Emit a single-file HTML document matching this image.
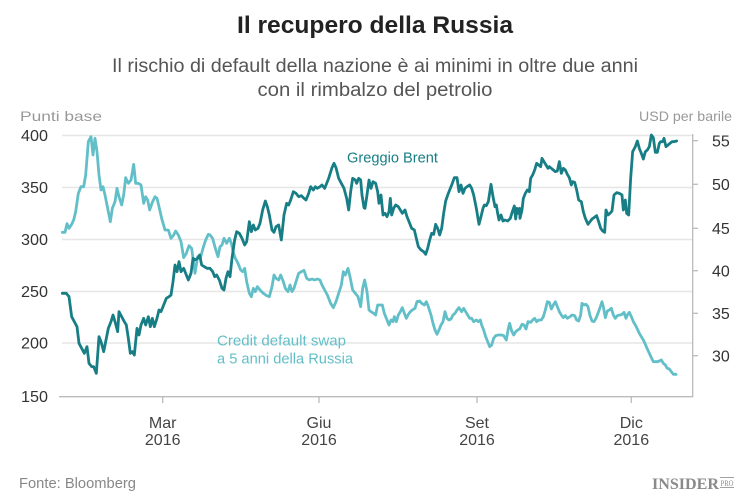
<!DOCTYPE html>
<html>
<head>
<meta charset="utf-8">
<style>
  html,body{margin:0;padding:0;background:#fff;}
  svg{display:block;}
  text{font-family:"Liberation Sans",Arial,sans-serif;}
</style>
</head>
<body>
<svg width="750" height="501" viewBox="0 0 750 501" xmlns="http://www.w3.org/2000/svg">
  <rect width="750" height="501" fill="#fff"/>

  <!-- Title -->
  <text x="375" y="33" text-anchor="middle" font-size="24" font-weight="bold" fill="#222" textLength="276" lengthAdjust="spacingAndGlyphs">Il recupero della Russia</text>
  <text x="375" y="72" text-anchor="middle" font-size="19" fill="#555" textLength="526" lengthAdjust="spacingAndGlyphs">Il rischio di default della nazione è ai minimi in oltre due anni</text>
  <text x="375" y="96" text-anchor="middle" font-size="19" fill="#555" textLength="235" lengthAdjust="spacingAndGlyphs">con il rimbalzo del petrolio</text>

  <!-- Axis titles -->
  <text x="20" y="121" font-size="14" fill="#999" textLength="82" lengthAdjust="spacingAndGlyphs">Punti base</text>
  <text x="732" y="121" text-anchor="end" font-size="14" fill="#999" textLength="93" lengthAdjust="spacingAndGlyphs">USD per barile</text>

  <!-- Gridlines -->
  <g stroke="#e6e6e6" stroke-width="1.5">
    <line x1="62" y1="135.5" x2="692" y2="135.5"/>
    <line x1="62" y1="187.5" x2="692" y2="187.5"/>
    <line x1="62" y1="239.5" x2="692" y2="239.5"/>
    <line x1="62" y1="291.5" x2="692" y2="291.5"/>
    <line x1="62" y1="343" x2="692" y2="343"/>
  </g>

  <!-- Axes -->
  <g stroke="#bbb" stroke-width="1.3" fill="none">
    <line x1="59" y1="396.7" x2="692.7" y2="396.7"/>
    <line x1="692.7" y1="134" x2="692.7" y2="397.3"/>
    <line x1="162.7" y1="397" x2="162.7" y2="403"/>
    <line x1="319" y1="397" x2="319" y2="403"/>
    <line x1="477" y1="397" x2="477" y2="403"/>
    <line x1="631.3" y1="397" x2="631.3" y2="403"/>
    <line x1="692.7" y1="140.7" x2="698" y2="140.7"/>
    <line x1="692.7" y1="184.3" x2="698" y2="184.3"/>
    <line x1="692.7" y1="228.3" x2="698" y2="228.3"/>
    <line x1="692.7" y1="270.7" x2="698" y2="270.7"/>
    <line x1="692.7" y1="313.3" x2="698" y2="313.3"/>
    <line x1="692.7" y1="355.7" x2="698" y2="355.7"/>
  </g>

  <!-- Left tick labels -->
  <g font-size="16" fill="#333">
    <text x="21" y="141" textLength="27" lengthAdjust="spacingAndGlyphs">400</text>
    <text x="21" y="193" textLength="27" lengthAdjust="spacingAndGlyphs">350</text>
    <text x="21" y="245" textLength="27" lengthAdjust="spacingAndGlyphs">300</text>
    <text x="21" y="297" textLength="27" lengthAdjust="spacingAndGlyphs">250</text>
    <text x="21" y="348.5" textLength="27" lengthAdjust="spacingAndGlyphs">200</text>
    <text x="21" y="402" textLength="27" lengthAdjust="spacingAndGlyphs">150</text>
  </g>

  <!-- Right tick labels -->
  <g font-size="16" fill="#333">
    <text x="712" y="146.5">55</text>
    <text x="712" y="190">50</text>
    <text x="712" y="234">45</text>
    <text x="712" y="276.5">40</text>
    <text x="712" y="319">35</text>
    <text x="712" y="361.5">30</text>
  </g>

  <!-- Bottom labels -->
  <g font-size="16" fill="#444" text-anchor="middle">
    <text x="162.7" y="428">Mar</text>
    <text x="162.7" y="445">2016</text>
    <text x="319" y="428">Giu</text>
    <text x="319" y="445">2016</text>
    <text x="477" y="428">Set</text>
    <text x="477" y="445">2016</text>
    <text x="631.3" y="428">Dic</text>
    <text x="631.3" y="445">2016</text>
  </g>

  <!-- Series -->
  <g transform="translate(55,125) scale(0.33333)" fill="none" stroke-linejoin="round" stroke-linecap="round">
    <polyline vector-effect="non-scaling-stroke" stroke="#62bfc8" stroke-width="2.8" points="
22,322 30,322 36,296 42,310 50,298 56,285 62,260 70,205 78,185 86,185 92,150 100,50 108,35 114,90 120,40 126,80 132,150 138,195 144,185 150,210 158,250 166,290 172,250 180,230 186,190 192,215 200,240 206,210 212,158 220,175 228,165 236,118 242,175 250,175 258,180 266,235 272,215 278,225 284,255 292,232 300,215 306,220 312,245 320,280 330,315 340,315 348,340 356,330 362,318 370,330 378,350 386,398 394,385 402,362 410,370 420,445 428,395 436,400 444,370 452,345 460,328
465,330 473,340 481,370 489,395 495,365 501,360 507,340 515,355 523,340 529,355 535,382 541,400 549,415 557,435 563,440 569,430 575,470 583,505 589,515 595,490 601,500 607,485 615,495 625,505 635,512 643,515 651,485 657,450 663,460 671,465 677,450 685,470 691,490 699,500 705,480 711,500 717,490 723,470 731,445 739,440 747,436 755,460 763,465 771,462 779,465 787,462 795,465 801,480 809,495 817,510 827,535 835,548 843,530 851,505 859,480 865,440 871,450 879,430 885,455 893,495 901,505 909,515 917,545 923,490 929,465
936,500 942,555 948,560 956,565 962,570 968,540 974,540 982,540 988,565 994,580 1002,600 1008,585 1014,590 1018,575 1024,590 1030,570 1036,560 1042,548 1048,565 1054,580 1060,568 1066,560 1072,555 1080,550 1086,530 1094,528 1100,535 1108,540 1114,530 1120,545 1128,570 1134,595 1140,615 1146,628 1152,615 1158,600 1164,590 1170,560 1176,580 1182,585 1188,582 1194,570 1200,565 1206,555 1212,548 1220,560 1226,550 1232,560 1238,570 1244,580 1250,580 1256,590 1264,585 1270,590 1276,585 1280,600 1286,615 1292,635 1298,650 1304,665 1310,660 1316,640 1322,632 1330,630 1340,630 1346,632 1354,645 1360,610 1364,595 1370,618 1376,630 1382,620 1388,615 1394,612
1401,598 1407,600 1413,612 1419,590 1427,592 1433,585 1439,580 1445,590 1451,585 1459,585 1465,575 1471,555 1477,530 1483,532 1489,552 1495,540 1501,530 1507,545 1513,560 1519,570 1525,578 1531,572 1537,580 1545,575 1551,570 1559,572 1565,585 1571,588 1577,570 1581,535 1587,540 1593,538 1599,545 1605,572 1611,588 1617,590 1623,580 1629,565 1635,548 1641,530 1645,545 1651,578 1657,558 1663,555 1669,550 1675,570 1681,580 1687,572 1695,570 1701,568 1707,562 1713,580 1717,570 1723,562 1729,575 1735,590 1741,600 1747,612 1753,625 1759,635 1765,645 1771,658 1777,672 1783,685 1789,698 1795,710 1801,710 1807,710 1813,708 1819,705 1825,715 1831,720 1837,730 1843,732 1849,740 1855,748 1863,748"/>

    <polyline vector-effect="non-scaling-stroke" stroke="#177e85" stroke-width="2.8" points="
22,505 34,505 42,515 50,575 58,590 66,605 72,655 80,670 88,685 96,665 102,715 110,725 116,725 124,745 132,635 138,650 146,680 154,640 160,610 168,590 174,570 180,590 188,620 192,560 200,575 208,590 214,600 220,640 226,685 232,680 238,690 246,610 252,630 258,600 266,580 272,600 280,575 286,605 292,580 298,605 306,580 312,555 318,560 326,540 334,520 342,515 348,510 354,470 360,420 366,440 372,410 378,440 386,430 394,450 400,465 408,445 414,400 420,405 428,400 434,390 440,420 448,425 456,430
465,430 473,440 479,455 485,450 493,465 501,490 507,495 513,460 519,440 525,455 531,400 539,345 545,320 553,325 561,340 569,360 575,350 583,290 589,320 595,300 601,315 609,310 615,295 623,255 631,228 637,245 643,270 651,315 657,322 663,305 671,300 679,345 687,270 695,235 701,240 707,225 715,200 723,205 731,215 739,212 747,220 753,225 761,205 767,185 775,195 781,185 787,190 795,185 801,180 809,190 815,175 821,160 831,128 837,115 843,128 851,160 859,175 867,190 875,220 881,255 887,200 893,160 901,165 905,175 911,160 917,165 921,210 927,248
930,250 936,210 942,165 948,190 954,170 962,175 968,200 972,235 978,210 984,270 990,265 996,275 1002,260 1006,220 1010,270 1016,250 1022,240 1030,245 1036,255 1042,265 1050,255 1056,275 1062,290 1070,310 1078,315 1084,340 1090,365 1098,375 1106,380 1112,388 1118,370 1124,345 1130,325 1136,328 1142,298 1148,310 1154,330 1160,310 1166,265 1172,228 1180,205 1186,190 1192,175 1198,158 1206,158 1212,200 1218,180 1224,205 1230,190 1236,185 1244,180 1250,190 1256,210 1264,250 1272,298 1278,275 1284,250 1288,240 1294,242 1300,230 1308,178 1314,215 1320,245 1324,240 1328,265 1332,285 1338,270 1344,288 1350,285 1358,288 1366,280 1372,260 1378,243 1382,282 1386,250 1390,265 1394,250
1395,280 1401,255 1405,220 1411,205 1417,195 1423,200 1427,160 1433,150 1439,135 1445,115 1451,120 1457,125 1461,100 1467,110 1473,120 1479,130 1483,125 1489,130 1495,135 1501,140 1507,138 1513,110 1519,145 1525,130 1531,135 1537,148 1543,158 1549,180 1553,170 1559,172 1565,195 1571,225 1579,230 1585,260 1591,280 1599,298 1605,290 1611,282 1617,278 1625,272 1631,290 1637,310 1643,318 1649,322 1653,255 1659,270 1665,265 1671,258 1677,210 1685,203 1693,205 1701,210 1705,255 1711,225 1715,265 1721,270 1727,160 1733,80 1741,65 1747,48 1753,70 1759,85 1765,102 1771,80 1777,75 1783,65 1789,30 1795,38 1801,82 1807,82 1813,55 1817,50 1823,50 1827,40 1833,65 1839,60 1845,55 1851,50 1857,50 1865,48"/>
  </g>

  <!-- Series labels -->
  <text x="347" y="162.5" font-size="15" fill="#177e85" textLength="91" lengthAdjust="spacingAndGlyphs">Greggio Brent</text>
  <text x="217" y="345.5" font-size="15" fill="#62bfc8" textLength="129" lengthAdjust="spacingAndGlyphs">Credit default swap</text>
  <text x="217" y="363.5" font-size="15" fill="#62bfc8" textLength="136" lengthAdjust="spacingAndGlyphs">a 5 anni della Russia</text>

  <!-- Footer -->
  <text x="19" y="488" font-size="14.5" fill="#888" textLength="117" lengthAdjust="spacingAndGlyphs">Fonte: Bloomberg</text>
  <text x="652" y="489" font-family="Liberation Serif, serif" font-size="16" font-weight="bold" fill="#8a8a8a" textLength="67" lengthAdjust="spacingAndGlyphs" style="font-family:'Liberation Serif',serif">INSIDER</text>
  <line x1="720" y1="477.5" x2="734" y2="477.5" stroke="#8a8a8a" stroke-width="0.8"/>
  <line x1="720" y1="487.5" x2="734" y2="487.5" stroke="#8a8a8a" stroke-width="0.8"/>
  <text x="720.5" y="485.8" font-size="8" fill="#8a8a8a" textLength="13" lengthAdjust="spacingAndGlyphs" style="font-family:'Liberation Serif',serif">PRO</text>
</svg>
</body>
</html>
